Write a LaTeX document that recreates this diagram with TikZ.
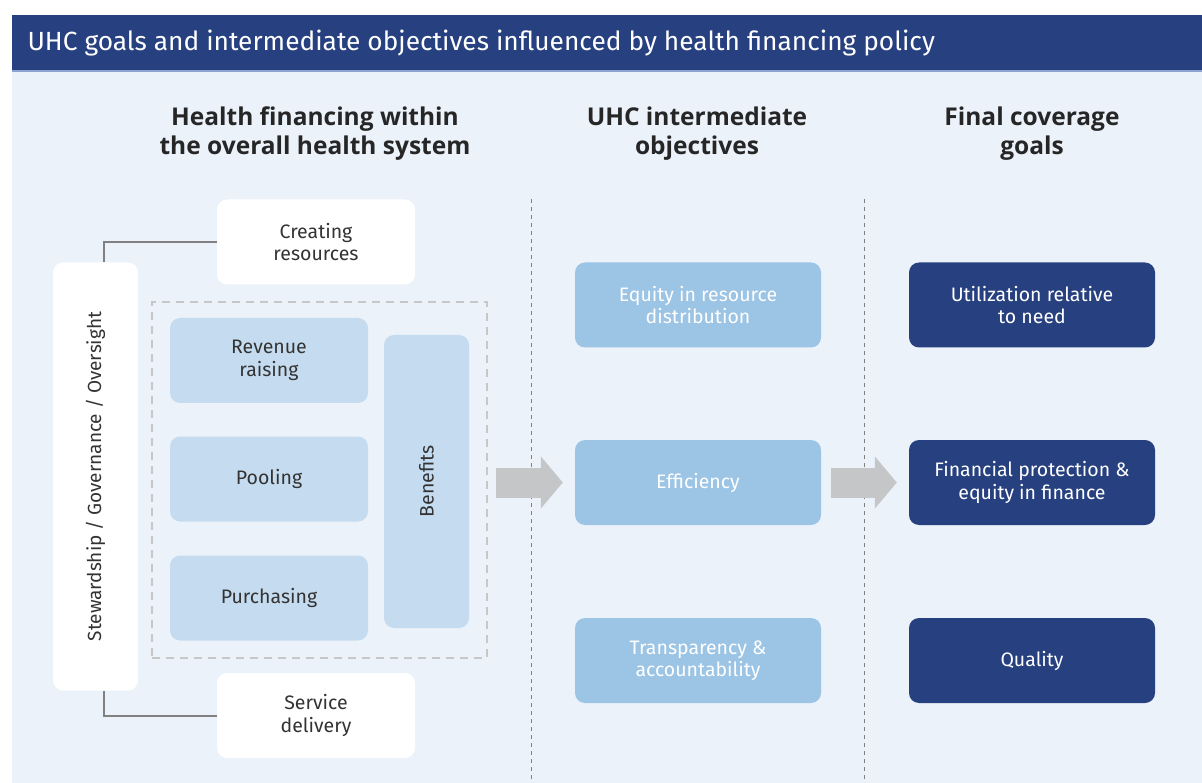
\documentclass[tikz,border=0pt]{standalone}
\usepackage{fontspec}
\setmainfont{Fira Sans}
\newfontfamily\headfont{Open Sans}
\usetikzlibrary{positioning}
\usetikzlibrary{arrows.meta}

\definecolor{navy}{HTML}{27407F}
\definecolor{navyline}{HTML}{8EA3CF}
\definecolor{panel}{HTML}{EBF2FA}
\definecolor{paleblue}{HTML}{C5DCF0}
\definecolor{midblue}{HTML}{9CC4E5}
\definecolor{arrowgray}{HTML}{C4C6C8}
\definecolor{txtdark}{HTML}{333333}

\begin{document}
\begin{tikzpicture}[x=1pt, y=-1pt,
    box/.style={rounded corners=10pt, inner sep=0pt, align=center,
        font=\fontsize{19.5}{22.5}\selectfont, text=txtdark},
    whitebox/.style={box, fill=white, minimum width=198pt, minimum height=85pt},
    palebox/.style={box, fill=paleblue, minimum width=198pt, minimum height=85pt},
    midbox/.style={box, fill=midblue, text=white, minimum width=246pt, minimum height=85pt},
    navybox/.style={box, fill=navy, text=white, minimum width=246pt, minimum height=85pt},
    heading/.style={align=center, font=\headfont\fontsize{24.5}{29}\selectfont\bfseries, text=black!85},
    link/.style={draw=black!50, line width=2pt},
    divider/.style={draw=black!50, line width=1pt, dash pattern=on 4pt off 4pt},
    bigarrow/.style={draw=arrowgray, line width=30pt,
        -{Triangle[length=22pt 0 0, width=51pt 0 0]}}]

    \useasboundingbox (0,0) rectangle (1202,783);

    % Title bar and panel
    \fill[panel] (12,72) rectangle (1202,783);
    \fill[navy] (12,15) rectangle (1202,70);
    \draw[navyline, line width=2pt] (12,71) -- (1202,71);
    \node[anchor=west, text=white, font=\fontsize{26.3}{30}\selectfont] (title) at (24,43)
        {UHC goals and intermediate objectives influenced by health financing policy};

    % Column headings
    \node[heading] (headleft) at (315,134) {Health financing within\\the overall health system};
    \node[heading] (headmid) at (697,134) {UHC intermediate\\objectives};
    \node[heading] (headright) at (1032,134) {Final coverage\\goals};

    % Dividers
    \draw[divider] (531,199) -- (531,783);
    \draw[divider] (864,199) -- (864,783);

    % Health system
    \node[box, fill=white, minimum width=85pt, minimum height=428pt,
        label={[rotate=90, font=\fontsize{19}{22}\selectfont, text=txtdark]center:Stewardship / Governance / Oversight}]
        (steward) at (95.5,476.5) {};
    \node[whitebox] (create) at (316,242) {Creating\\resources};
    \node[whitebox] (service) at (316,715.5) {Service\\delivery};
    \node[draw=black!22, line width=1.3pt, dash pattern=on 8pt off 6pt,
        minimum width=335pt, minimum height=356pt] (fbox) at (319.5,480) {};
    \node[palebox] (revenue) at (269,360.5) {Revenue\\raising};
    \node[palebox] (pooling) at (269,479) {Pooling};
    \node[palebox] (purchase) at (269,598) {Purchasing};
    \node[box, fill=paleblue, minimum width=85pt, minimum height=293pt,
        label={[rotate=90, font=\fontsize{19.5}{22}\selectfont, text=txtdark]center:Benefits}]
        (benefits) at (426.5,481.5) {};

    \draw[link] (create.west) -| ([xshift=8pt]steward.north);
    \draw[link] ([xshift=8pt]steward.south) |- (service.west);

    % Intermediate objectives
    \node[midbox] (equity) at (698,305) {Equity in resource\\distribution};
    \node[midbox] (effic) at (698,482.5) {Efficiency};
    \node[midbox] (transp) at (698,660.5) {Transparency \&\\accountability};

    % Final goals
    \node[navybox] (utiliz) at (1032,305) {Utilization relative\\to need};
    \node[navybox] (finprot) at (1032,482.5) {Financial protection \&\\equity in finance};
    \node[navybox] (quality) at (1032,660.5) {Quality};

    % Block arrows
    \draw[bigarrow] ([xshift=8pt]fbox.east |- effic.west) -- ([xshift=-12pt]effic.west);
    \draw[bigarrow] ([xshift=10pt]effic.east) -- ([xshift=-12pt]finprot.west);

\end{tikzpicture}
\end{document}
